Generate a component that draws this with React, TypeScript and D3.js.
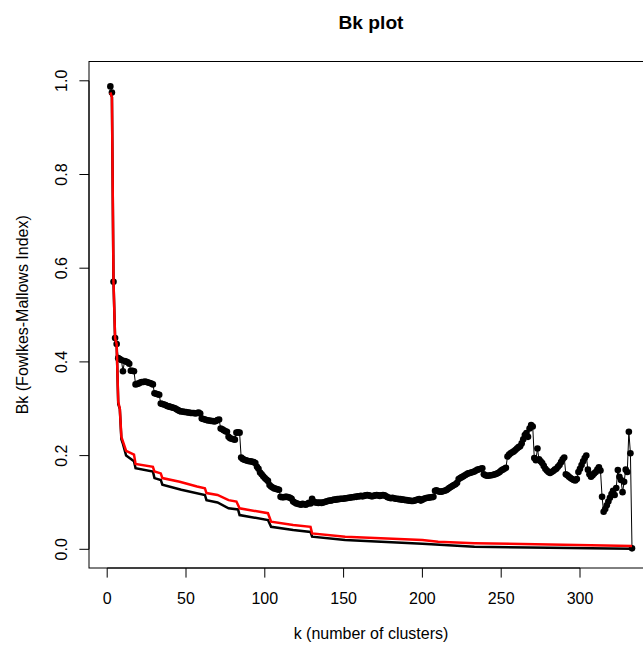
import React from "react";
import * as d3 from "d3";

// Bk values, one per k starting at k = 2
const kStart = 2;
const bkValues = [
  0.988, 0.975, 0.571, 0.451, 0.438, 0.408, 0.406, 0.404, 0.380, 0.402, 0.401, 0.399, 0.396, 0.381, 0.381, 0.380,
  0.352, 0.353, 0.354, 0.356, 0.357, 0.357, 0.358, 0.357, 0.356, 0.355, 0.354, 0.352,
  0.333, 0.332, 0.331, 0.330,
  0.311, 0.310, 0.309, 0.308, 0.306, 0.305, 0.304, 0.303, 0.302, 0.301, 0.299, 0.297, 0.295, 0.294,
  0.294, 0.293, 0.293, 0.292, 0.292, 0.291, 0.291, 0.291, 0.290, 0.291, 0.292, 0.290,
  0.279, 0.278, 0.277, 0.276, 0.275, 0.275, 0.274, 0.274, 0.273, 0.274, 0.276, 0.277,
  0.258, 0.256, 0.254, 0.252, 0.251,
  0.240, 0.237, 0.236, 0.235, 0.234, 0.249, 0.250, 0.249,
  0.196, 0.193, 0.191, 0.190, 0.189, 0.188, 0.188, 0.187, 0.186, 0.184, 0.176, 0.172,
  0.164, 0.160, 0.156, 0.152, 0.149, 0.146,
  0.137, 0.134, 0.132, 0.130, 0.129, 0.128, 0.127,
  0.112, 0.111, 0.111, 0.112, 0.112, 0.111, 0.110, 0.108,
  0.102, 0.100, 0.098, 0.097, 0.096, 0.095, 0.097, 0.096, 0.095, 0.097, 0.099, 0.098, 0.108,
  0.102, 0.100, 0.100, 0.099, 0.100, 0.099, 0.100, 0.101, 0.102, 0.103, 0.104, 0.104, 0.105, 0.106, 0.106,
  0.107, 0.107, 0.108, 0.108, 0.108, 0.109,
  0.109, 0.110, 0.110, 0.111, 0.111, 0.112, 0.112, 0.113, 0.113, 0.114,
  0.113, 0.114, 0.115, 0.116, 0.115, 0.114, 0.113, 0.114, 0.115, 0.116,
  0.115, 0.114, 0.115, 0.116, 0.115, 0.113, 0.111, 0.110, 0.109, 0.110,
  0.109, 0.108, 0.108, 0.107, 0.107, 0.106, 0.106, 0.105, 0.105, 0.104,
  0.104, 0.103, 0.103, 0.104, 0.105, 0.106, 0.107, 0.104, 0.106, 0.108,
  0.109, 0.110, 0.110, 0.111, 0.111, 0.112,
  0.125, 0.126, 0.124, 0.123, 0.123, 0.124, 0.125, 0.126, 0.128,
  0.131, 0.133, 0.135, 0.137, 0.139, 0.142,
  0.150, 0.152, 0.154, 0.156, 0.158, 0.160, 0.162, 0.163, 0.164, 0.165, 0.166,
  0.168, 0.170, 0.171, 0.172, 0.173, 0.160, 0.158, 0.157, 0.157, 0.158,
  0.158, 0.159, 0.160, 0.161, 0.163, 0.165, 0.168, 0.170, 0.172, 0.174,
  0.198, 0.202, 0.205, 0.207, 0.209, 0.212, 0.215, 0.218, 0.220,
  0.226, 0.235, 0.244, 0.248, 0.240, 0.258, 0.265, 0.262,
  0.195, 0.190, 0.215, 0.192, 0.188, 0.184,
  0.178, 0.172, 0.168, 0.165,
  0.163, 0.165, 0.167, 0.170, 0.172, 0.176, 0.180, 0.186, 0.192, 0.196,
  0.160, 0.158, 0.155, 0.152, 0.150, 0.148, 0.147, 0.150,
  0.165, 0.172, 0.180, 0.188, 0.195, 0.200, 0.170, 0.160, 0.155, 0.158, 0.162, 0.165, 0.170, 0.175, 0.168,
  0.112, 0.080, 0.086, 0.094, 0.102, 0.110, 0.118, 0.125,
  0.116, 0.131, 0.169, 0.155, 0.148, 0.122, 0.144, 0.170, 0.165,
  0.251, 0.205, 0.002,
];

// upper (red) line, k where value changes
const redK = [2, 3, 4, 5, 6, 7, 8, 9, 12, 17, 18, 29, 30, 34, 35, 46, 57, 62, 63, 70, 77, 82, 84, 102, 104, 118, 129, 130, 151, 200, 210, 233, 333];
const redV = [0.975, 0.965, 0.571, 0.451, 0.438, 0.315, 0.3, 0.24, 0.21, 0.202, 0.182, 0.176, 0.166, 0.162, 0.152, 0.144, 0.134, 0.13, 0.12, 0.116, 0.105, 0.102, 0.0875, 0.077, 0.059, 0.052, 0.048, 0.034, 0.027, 0.02, 0.016, 0.013, 0.007];

// expected (black) line
const blackK = [2, 3, 4, 5, 6, 7, 8, 9, 10, 12, 17, 18, 29, 30, 34, 35, 47, 62, 63, 70, 77, 83, 84, 102, 104, 118, 129, 130, 151, 200, 233, 333];
const blackV = [0.975, 0.965, 0.571, 0.451, 0.438, 0.31, 0.3, 0.235, 0.225, 0.2, 0.188, 0.173, 0.166, 0.152, 0.148, 0.138, 0.127, 0.116, 0.105, 0.1, 0.0875, 0.085, 0.073, 0.0625, 0.048, 0.041, 0.037, 0.027, 0.02, 0.012, 0.0055, 0.001];

const xTicks = [0, 50, 100, 150, 200, 250, 300];
const yTicks = [0, 0.2, 0.4, 0.6, 0.8, 1.0];

const width = 643;
const height = 645;
const box = { left: 89, top: 61.5, right: 653, bottom: 568 };
const font = "'Liberation Sans', Arial, Helvetica, sans-serif";

type Pt = { k: number; v: number };

export default function App() {
  const x = d3.scaleLinear().domain([0, 300]).range([107.2, 580]);
  const y = d3.scaleLinear().domain([0, 1]).range([549.3, 80.8]);

  const points: Pt[] = bkValues.map((v, i) => ({ k: kStart + i, v }));
  const red: Pt[] = redK.map((k, i) => ({ k, v: redV[i] }));
  const black: Pt[] = blackK.map((k, i) => ({ k, v: blackV[i] }));

  const line = d3.line<Pt>().x(d => x(d.k)).y(d => y(d.v));
  const cx = (box.left + box.right) / 2;
  const cy = (box.top + box.bottom) / 2;

  return (
    <svg
      width={width}
      height={height}
      style={{ position: "absolute", left: 0, top: 0, background: "#fff" }}
      fontFamily={font}
    >
      <rect x={0} y={0} width={width} height={height} fill="#fff" />

      {/* points with thin connecting line */}
      <path d={line(points) || ""} fill="none" stroke="#000" strokeWidth={1} />
      {points.map((d, i) => (
        <circle key={i} cx={x(d.k)} cy={y(d.v)} r={3.3} fill="#000" />
      ))}

      <path d={line(black) || ""} fill="none" stroke="#000" strokeWidth={2.5} />
      <path d={line(red) || ""} fill="none" stroke="#ff0000" strokeWidth={2.5} />

      {/* box */}
      <rect
        x={box.left}
        y={box.top}
        width={box.right - box.left}
        height={box.bottom - box.top}
        fill="none"
        stroke="#000"
        strokeWidth={1}
      />

      {/* x axis */}
      <line x1={x(0)} x2={x(300)} y1={box.bottom} y2={box.bottom} stroke="#000" />
      {xTicks.map(t => (
        <g key={t}>
          <line x1={x(t)} x2={x(t)} y1={box.bottom} y2={box.bottom + 9.6} stroke="#000" />
          <text x={x(t)} y={603.5} textAnchor="middle" fontSize={16}>
            {t}
          </text>
        </g>
      ))}

      {/* y axis */}
      <line x1={box.left} x2={box.left} y1={y(0)} y2={y(1)} stroke="#000" />
      {yTicks.map(t => (
        <g key={t}>
          <line x1={box.left - 9.6} x2={box.left} y1={y(t)} y2={y(t)} stroke="#000" />
          <text
            transform={`translate(66.5,${y(t)}) rotate(-90)`}
            textAnchor="middle"
            fontSize={16}
          >
            {d3.format(".1f")(t)}
          </text>
        </g>
      ))}

      {/* titles */}
      <text x={cx} y={28.5} textAnchor="middle" fontSize={19.2} fontWeight="bold">
        Bk plot
      </text>
      <text x={cx} y={639} textAnchor="middle" fontSize={16}>
        k (number of clusters)
      </text>
      <text transform={`translate(28,${cy}) rotate(-90)`} textAnchor="middle" fontSize={16}>
        Bk (Fowlkes-Mallows Index)
      </text>
    </svg>
  );
}
